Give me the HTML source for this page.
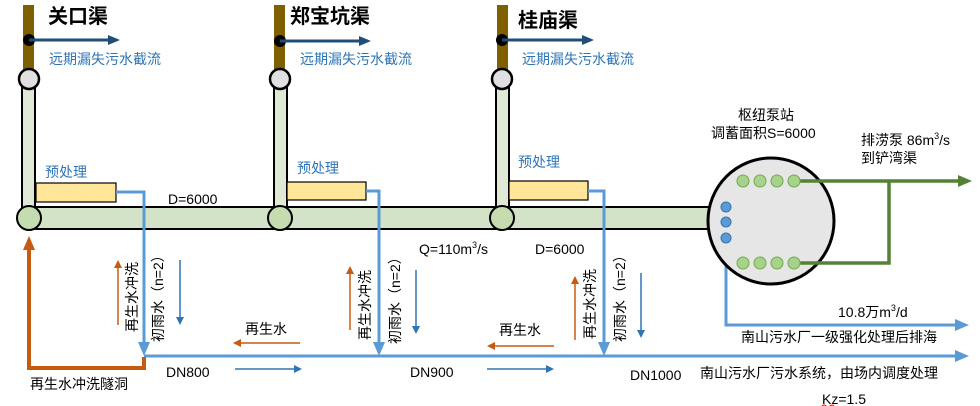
<!DOCTYPE html>
<html><head><meta charset="utf-8"><style>
body{margin:0;background:#fff}
svg{display:block}
text{font-family:"Liberation Sans","Noto Sans CJK SC",sans-serif}
</style></head><body>
<svg width="980" height="406" viewBox="0 0 980 406" xmlns="http://www.w3.org/2000/svg">
<defs>
<marker id="ab" markerWidth="12" markerHeight="10" refX="9" refY="5" orient="auto" markerUnits="userSpaceOnUse"><path d="M0,0 L12,5 L0,10z" fill="#1f4e79"/></marker>
<marker id="al" markerWidth="8" markerHeight="8" refX="6" refY="4" orient="auto" markerUnits="userSpaceOnUse"><path d="M0,0 L8,4 L0,8z" fill="#2e75b6"/></marker>
<marker id="alb" markerWidth="14" markerHeight="12" refX="10" refY="6" orient="auto" markerUnits="userSpaceOnUse"><path d="M0,0 L14,6 L0,12z" fill="#5b9bd5"/></marker>
<marker id="ao" markerWidth="8" markerHeight="8" refX="6" refY="4" orient="auto" markerUnits="userSpaceOnUse"><path d="M0,0 L8,4 L0,8z" fill="#c55a11"/></marker>
<marker id="aob" markerWidth="14" markerHeight="12" refX="10" refY="6" orient="auto" markerUnits="userSpaceOnUse"><path d="M0,0 L14,6 L0,12z" fill="#c55a11"/></marker>
<marker id="ag" markerWidth="14" markerHeight="12" refX="10" refY="6" orient="auto" markerUnits="userSpaceOnUse"><path d="M0,0 L14,6 L0,12z" fill="#548235"/></marker>
</defs>

<rect x="23" y="5" width="11" height="68" fill="#7f6000"/>
<rect x="274" y="5" width="11" height="68" fill="#7f6000"/>
<rect x="497" y="5" width="11" height="68" fill="#7f6000"/>

<rect x="22" y="80" width="13" height="130" fill="#dfe9d5" stroke="#000" stroke-width="2"/>
<rect x="274" y="80" width="13" height="130" fill="#dfe9d5" stroke="#000" stroke-width="2"/>
<rect x="496" y="80" width="13" height="130" fill="#dfe9d5" stroke="#000" stroke-width="2"/>

<rect x="29" y="207" width="685" height="22" fill="#d3e3c7" stroke="#000" stroke-width="2"/>

<circle cx="29" cy="79" r="10" fill="#e0e0e0" stroke="#000" stroke-width="2.5"/>
<circle cx="280" cy="79" r="10" fill="#e0e0e0" stroke="#000" stroke-width="2.5"/>
<circle cx="502" cy="79" r="10" fill="#e0e0e0" stroke="#000" stroke-width="2.5"/>
<circle cx="29" cy="218" r="12" fill="#c5dcb0" stroke="#000" stroke-width="2"/>
<circle cx="280" cy="218" r="12" fill="#c5dcb0" stroke="#000" stroke-width="2"/>
<circle cx="502" cy="218" r="12" fill="#c5dcb0" stroke="#000" stroke-width="2"/>

<circle cx="29" cy="40" r="6" fill="#000"/>
<line x1="29" y1="40" x2="117" y2="40" stroke="#1f4e79" stroke-width="3" marker-end="url(#ab)"/>
<circle cx="280" cy="41" r="6" fill="#000"/>
<line x1="280" y1="41" x2="368" y2="41" stroke="#1f4e79" stroke-width="3" marker-end="url(#ab)"/>
<circle cx="502" cy="40" r="6" fill="#000"/>
<line x1="502" y1="40" x2="591" y2="40" stroke="#1f4e79" stroke-width="3" marker-end="url(#ab)"/>

<text x="48" y="23" font-size="20" font-weight="bold">关口渠</text>
<text x="290" y="23" font-size="20" font-weight="bold">郑宝坑渠</text>
<text x="518" y="27" font-size="20" font-weight="bold">桂庙渠</text>
<g fill="#2e75b6" font-size="14">
<text x="49" y="64">远期漏失污水截流</text>
<text x="300" y="64">远期漏失污水截流</text>
<text x="522" y="64">远期漏失污水截流</text>
<text x="45" y="177">预处理</text>
<text x="297" y="173">预处理</text>
<text x="518" y="167">预处理</text>
</g>

<rect x="36" y="183" width="80" height="19" fill="#ffe699" stroke="#000" stroke-width="1.2"/>
<rect x="287" y="182" width="79" height="18" fill="#ffe699" stroke="#000" stroke-width="1.2"/>
<rect x="509" y="181" width="79" height="19" fill="#ffe699" stroke="#000" stroke-width="1.2"/>

<g stroke="#5b9bd5" stroke-width="3" fill="none">
<polyline points="116,192 144,192 144,352" marker-end="url(#alb)"/>
<polyline points="366,191 379,191 379,352" marker-end="url(#alb)"/>
<polyline points="588,191 604,191 604,352" marker-end="url(#alb)"/>
<line x1="144" y1="356" x2="965" y2="356" marker-end="url(#alb)"/>
<polyline points="726,238 726,325 965,325" marker-end="url(#alb)"/>
</g>

<polyline points="144,357 144,368 29,368 29,240" fill="none" stroke="#c55a11" stroke-width="4" marker-end="url(#aob)"/>

<circle cx="771" cy="221" r="63" fill="#e6e6e6" stroke="#000" stroke-width="3"/>
<g stroke="#548235" stroke-width="3.5" fill="none">
<line x1="794" y1="181" x2="968" y2="181" marker-end="url(#ag)"/>
<polyline points="794,263 889,263 889,181"/>
</g>
<g fill="#a9d18e" stroke="#70ad47" stroke-width="1">
<circle cx="743" cy="181" r="6"/><circle cx="760" cy="181" r="6"/><circle cx="777" cy="181" r="6"/><circle cx="794" cy="181" r="6"/>
<circle cx="743" cy="263" r="6"/><circle cx="760" cy="263" r="6"/><circle cx="777" cy="263" r="6"/><circle cx="794" cy="263" r="6"/>
</g>
<g fill="#5b9bd5" stroke="#2e75b6" stroke-width="1">
<circle cx="726" cy="207" r="5"/><circle cx="726" cy="222" r="5"/><circle cx="726" cy="238" r="5"/>
</g>

<g stroke-width="1.5">
<line x1="118" y1="325" x2="118" y2="262" stroke="#c55a11" marker-end="url(#ao)"/>
<line x1="180" y1="260" x2="180" y2="323" stroke="#2e75b6" marker-end="url(#al)"/>
<line x1="350" y1="330" x2="350" y2="268" stroke="#c55a11" marker-end="url(#ao)"/>
<line x1="416" y1="270" x2="416" y2="332" stroke="#2e75b6" marker-end="url(#al)"/>
<line x1="575" y1="340" x2="575" y2="278" stroke="#c55a11" marker-end="url(#ao)"/>
<line x1="641" y1="273" x2="641" y2="336" stroke="#2e75b6" marker-end="url(#al)"/>
<line x1="300" y1="343" x2="235" y2="343" stroke="#c55a11" marker-end="url(#ao)"/>
<line x1="554" y1="346" x2="489" y2="346" stroke="#c55a11" marker-end="url(#ao)"/>
<line x1="235" y1="369" x2="300" y2="369" stroke="#2e75b6" marker-end="url(#al)"/>
<line x1="487" y1="369" x2="552" y2="369" stroke="#2e75b6" marker-end="url(#al)"/>
</g>

<g font-size="14" fill="#000">
<text transform="translate(137,332) rotate(-90)">再生水冲洗</text>
<text transform="translate(163,342) rotate(-90)">初雨水（n=2）</text>
<text transform="translate(370,340) rotate(-90)">再生水冲洗</text>
<text transform="translate(400,344) rotate(-90)">初雨水（n=2）</text>
<text transform="translate(595,339) rotate(-90)">再生水冲洗</text>
<text transform="translate(625,342) rotate(-90)">初雨水（n=2）</text>
</g>

<g font-size="14" fill="#000">
<text x="168" y="204">D=6000</text>
<text x="419" y="254">Q=110m<tspan font-size="9" dy="-6">3</tspan><tspan dy="6">/s</tspan></text>
<text x="535" y="254">D=6000</text>
<text x="245" y="334">再生水</text>
<text x="499" y="335">再生水</text>
<text x="166" y="377">DN800</text>
<text x="410" y="377">DN900</text>
<text x="630" y="380">DN1000</text>
<text x="30" y="389">再生水冲洗隧洞</text>
<text x="700" y="378">南山污水厂污水系统，由场内调度处理</text>
<text x="822" y="404">Kz=1.5</text>
<text x="838" y="317">10.8万m<tspan font-size="9" dy="-6">3</tspan><tspan dy="6">/d</tspan></text>
<text x="741" y="342">南山污水厂一级强化处理后排海</text>
<text x="738" y="120">枢纽泵站</text>
<text x="711" y="138">调蓄面积S=6000</text>
<text x="861" y="145">排涝泵 86m<tspan font-size="9" dy="-6">3</tspan><tspan dy="6">/s</tspan></text>
<text x="861" y="163">到铲湾渠</text>
</g>
<path d="M822,406 q2,-2 4,0 t4,0 t4,0 t4,0" stroke="#e00" fill="none" stroke-width="1"/>
</svg>
</body></html>
